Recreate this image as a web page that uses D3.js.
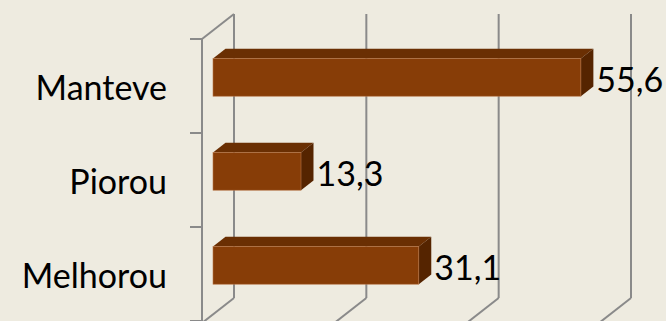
<!DOCTYPE html>
<html>
<head>
<meta charset="utf-8">
<script src="https://cdn.jsdelivr.net/npm/d3@7"></script>
<style>
  html, body { margin: 0; padding: 0; background: #EEEBE0; }
  svg { display: block; }
</style>
</head>
<body>
<div id="chart"></div>
<script>
const categories = ["Manteve", "Piorou", "Melhorou"];
const values = [55.6, 13.3, 31.1];
const valueLabels = ["55,6", "13,3", "31,1"];
const gridTicks = [0, 20, 40, 60];

const W = 666, H = 321;
const svg = d3.select("#chart").append("svg").attr("width", W).attr("height", H);
svg.append("rect").attr("width", W).attr("height", H).attr("fill", "#EEEBE0");

// 3D frame: front plane and depth offset
const depthX = 32, depthY = -25;
const x = d3.scaleLinear().domain([0, 60]).range([202, 599]);
const y = d3.scaleBand().domain(categories).range([39, 321]).paddingInner(0.6).paddingOuter(0.3);
const d1 = 0.344, d2 = 0.734; // bar depth (front/back) fraction

const lineColor = "#8a8a8a";
const g = svg.append("g");

// back wall gridlines
g.selectAll("line.grid").data(gridTicks).join("line")
  .attr("x1", d => x(d) + depthX).attr("x2", d => x(d) + depthX)
  .attr("y1", y.range()[0] + depthY).attr("y2", y.range()[1] + depthY + 2)
  .attr("stroke", lineColor).attr("stroke-width", 2);
// floor diagonals
g.selectAll("line.floor").data(gridTicks).join("line")
  .attr("x1", d => x(d) + depthX).attr("y1", y.range()[1] + depthY + 2)
  .attr("x2", d => x(d)).attr("y2", y.range()[1] + 2)
  .attr("stroke", lineColor).attr("stroke-width", 2);
// top-left diagonal
g.append("line")
  .attr("x1", x(0)).attr("y1", y.range()[0])
  .attr("x2", x(0) + depthX).attr("y2", y.range()[0] + depthY)
  .attr("stroke", lineColor).attr("stroke-width", 2);
// front left axis
g.append("line")
  .attr("x1", x(0)).attr("x2", x(0))
  .attr("y1", y.range()[0]).attr("y2", H)
  .attr("stroke", lineColor).attr("stroke-width", 2);
// category tick marks
const tickYs = categories.map(c => y(c) - y.step() * y.paddingOuter()).concat([y.range()[1]]);
g.selectAll("line.tick").data(tickYs).join("line")
  .attr("x1", x(0) - 12).attr("x2", x(0))
  .attr("y1", d => d).attr("y2", d => d)
  .attr("stroke", lineColor).attr("stroke-width", 2);

// bars
const data = categories.map((c, i) => ({ c, v: values[i], label: valueLabels[i] }));
const ox1 = depthX * d1, oy1 = depthY * d1, ox2 = depthX * d2, oy2 = depthY * d2;
const bars = svg.append("g").selectAll("g").data(data).join("g");
bars.each(function(d) {
  const sel = d3.select(this);
  const x0 = x(0), xv = x(d.v), yt = y(d.c), yb = y(d.c) + y.bandwidth();
  // top face
  sel.append("path")
    .attr("d", `M${x0+ox1},${yt+oy1} L${x0+ox2},${yt+oy2} L${xv+ox2},${yt+oy2} L${xv+ox1},${yt+oy1} Z`)
    .attr("fill", "#6A2F03");
  // side face
  sel.append("path")
    .attr("d", `M${xv+ox1},${yt+oy1} L${xv+ox2},${yt+oy2} L${xv+ox2},${yb+oy2} L${xv+ox1},${yb+oy1} Z`)
    .attr("fill", "#552400");
  // front face
  sel.append("rect")
    .attr("x", x0 + ox1).attr("y", yt + oy1)
    .attr("width", xv - x0).attr("height", y.bandwidth())
    .attr("fill", "#873D07").attr("stroke", "#B87446").attr("stroke-width", 0.6);
  // value label
  sel.append("text")
    .attr("x", xv + ox2 + 3).attr("y", yt + oy1 + y.bandwidth() / 2 + 1)
    .attr("dominant-baseline", "central")
    .attr("font-family", "Lato, 'Open Sans', sans-serif").attr("font-size", 34)
    .attr("fill", "#000").text(d.label);
});

// category labels
svg.append("g").selectAll("text").data(categories).join("text")
  .attr("x", 167).attr("y", d => y(d) + y.bandwidth() / 2)
  .attr("text-anchor", "end").attr("dominant-baseline", "central")
  .attr("font-family", "Lato, 'Open Sans', sans-serif").attr("font-size", 34)
  .attr("fill", "#000").text(d => d);
</script>
</body>
</html>
